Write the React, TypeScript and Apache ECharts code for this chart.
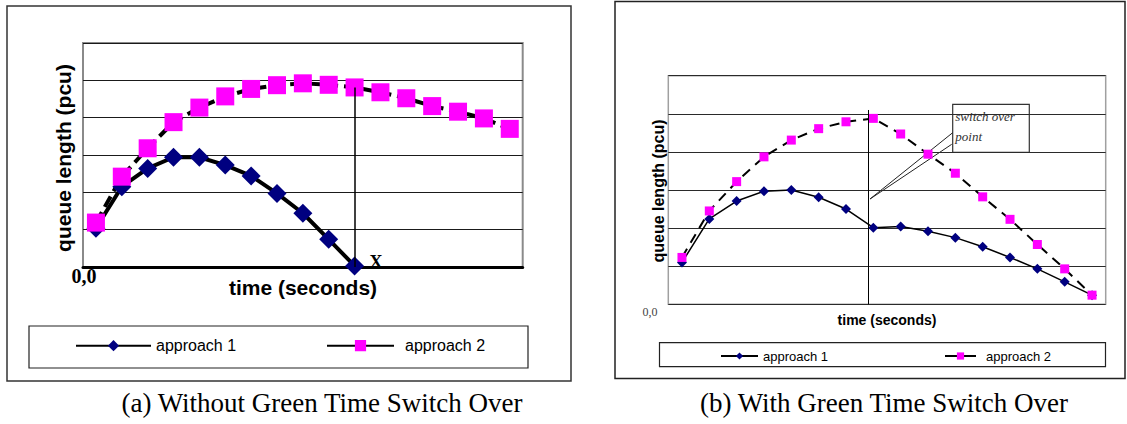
import React, { useEffect, useRef } from "react";
import * as echarts from "echarts";

// ---- data: chart (a) Without Green Time Switch Over ----
const timeStepsA = [1, 2, 3, 4, 5, 6, 7, 8, 9, 10, 11, 12, 13, 14, 15, 16, 17];
const approach1A = [1.04, 2.15, 2.64, 2.94, 2.94, 2.73, 2.44, 1.97, 1.44, 0.74, 0.03];
const approach2A = [1.19, 2.42, 3.18, 3.88, 4.27, 4.57, 4.77, 4.87, 4.92, 4.88, 4.81, 4.68, 4.52, 4.31, 4.16, 3.98, 3.7];
const markerIndexA = 10; // point "X"

// ---- data: chart (b) With Green Time Switch Over ----
const timeStepsB = [1, 2, 3, 4, 5, 6, 7, 8, 9, 10, 11, 12, 13, 14, 15, 16];
const approach1B = [1.1, 2.24, 2.71, 2.97, 3.0, 2.81, 2.5, 2.01, 2.04, 1.92, 1.75, 1.51, 1.23, 0.93, 0.59, 0.24];
const approach2B = [1.23, 2.45, 3.22, 3.87, 4.31, 4.61, 4.79, 4.88, 4.47, 3.94, 3.44, 2.82, 2.23, 1.57, 0.93, 0.24];
const switchOverTime = 7.82;
const switchOverTop = 5.1;
const baseLineB = 0.13;

const seriesNames = ["approach 1", "approach 2"];
const yTicks = { min: 0, max: 6, interval: 1 };

const SANS = "'Liberation Sans', Arial, Helvetica, sans-serif";
const SERIF = "'Liberation Serif', 'Times New Roman', Times, serif";

const pairs = (xs: number[], ys: number[]) => ys.map((y, i) => [xs[i], y]);

function optionA(): any {
  return {
    animation: false,
    grid: {
      left: 83,
      top: 43,
      right: 67.3,
      bottom: 157,
      show: true,
      borderColor: "#8a8a8a",
      borderWidth: 2,
      backgroundColor: "transparent",
    },
    xAxis: {
      type: "value",
      min: 0.5,
      max: timeStepsA.length + 0.5,
      axisLine: { show: true, lineStyle: { color: "#000", width: 3 } },
      axisTick: { show: false },
      axisLabel: { show: false },
      splitLine: { show: false },
    },
    yAxis: {
      type: "value",
      ...yTicks,
      axisLine: { show: false },
      axisTick: { show: false },
      axisLabel: { show: false },
      splitLine: { show: true, lineStyle: { color: "#1a1a1a", width: 1 } },
    },
    legend: [
      {
        data: [seriesNames[0]],
        left: 75,
        top: 337.7,
        padding: 0,
        itemWidth: 75,
        itemHeight: 14,
        selectedMode: false,
        textStyle: { fontSize: 16, fontFamily: SANS, color: "#000" },
      },
      {
        data: [seriesNames[1]],
        left: 326,
        top: 337.7,
        padding: 0,
        itemWidth: 67,
        itemHeight: 14,
        selectedMode: false,
        lineStyle: { type: "solid" },
        textStyle: { fontSize: 16, fontFamily: SANS, color: "#000", padding: [0, 0, 0, 6] },
      },
    ],
    series: [
      {
        name: seriesNames[0],
        type: "line",
        data: pairs(timeStepsA, approach1A),
        symbol: "diamond",
        symbolSize: [19, 19],
        clip: false,
        itemStyle: { color: "#000080" },
        lineStyle: { color: "#000", width: 4 },
      },
      {
        name: seriesNames[1],
        type: "line",
        data: pairs(timeStepsA, approach2A),
        symbol: "rect",
        symbolSize: 18,
        clip: false,
        itemStyle: { color: "#ff00ff" },
        lineStyle: { color: "#000", width: 4, type: [12, 6] },
        markLine: {
          silent: true,
          symbol: ["none", "none"],
          label: { show: false },
          lineStyle: { color: "#000", width: 1.5, type: "solid" },
          data: [
            [
              { coord: [timeStepsA[markerIndexA], approach2A[markerIndexA]] },
              { coord: [timeStepsA[markerIndexA], 0] },
            ],
            [
              { coord: [0.5, 0], lineStyle: { width: 3 } },
              { coord: [timeStepsA.length + 0.75, 0] },
            ],
          ],
        },
      },
    ],
    graphic: {
      elements: [
        {
          type: "rect",
          shape: { x: 7, y: 6, width: 564, height: 375 },
          style: { fill: "none", stroke: "#333", lineWidth: 1.5 },
          silent: true,
        },
        {
          type: "rect",
          shape: { x: 29, y: 326, width: 499, height: 42 },
          style: { fill: "none", stroke: "#222", lineWidth: 1.2 },
          silent: true,
        },
        {
          type: "text",
          x: 63,
          y: 158,
          rotation: Math.PI / 2,
          style: {
            text: "queue length (pcu)",
            fontFamily: SANS,
            fontWeight: "bold",
            fontSize: 21,
            fill: "#000",
            align: "center",
            verticalAlign: "middle",
          },
        },
        {
          type: "text",
          x: 303,
          y: 287,
          style: {
            text: "time (seconds)",
            fontFamily: SANS,
            fontWeight: "bold",
            fontSize: 21,
            fill: "#000",
            align: "center",
            verticalAlign: "middle",
          },
        },
        {
          type: "text",
          x: 84,
          y: 276,
          style: {
            text: "0,0",
            fontFamily: SERIF,
            fontWeight: "bold",
            fontSize: 20,
            fill: "#000",
            align: "center",
            verticalAlign: "middle",
          },
        },
        {
          type: "text",
          x: 376,
          y: 262,
          style: {
            text: "X",
            fontFamily: SERIF,
            fontWeight: "bold",
            fontSize: 18,
            fill: "#000",
            align: "center",
            verticalAlign: "middle",
          },
        },
        {
          type: "text",
          x: 322,
          y: 403,
          style: {
            text: "(a) Without Green Time Switch Over",
            fontFamily: SERIF,
            fontSize: 27,
            fill: "#000",
            align: "center",
            verticalAlign: "middle",
          },
        },
      ],
    },
  };
}

function optionB(): any {
  return {
    animation: false,
    grid: {
      left: 78.3,
      top: 75.7,
      right: 21.3,
      bottom: 119.7,
      show: true,
      borderColor: "#a0a0a0",
      borderWidth: 1.5,
      backgroundColor: "transparent",
    },
    xAxis: {
      type: "value",
      min: 0.5,
      max: timeStepsB.length + 0.5,
      axisLine: { show: false },
      axisTick: { show: false },
      axisLabel: { show: false },
      splitLine: { show: false },
    },
    yAxis: {
      type: "value",
      ...yTicks,
      axisLine: { show: false },
      axisTick: { show: false },
      axisLabel: { show: false },
      splitLine: { show: true, lineStyle: { color: "#2a2a2a", width: 1.2 } },
    },
    legend: [
      {
        data: [seriesNames[0]],
        left: 130,
        top: 349.5,
        padding: 0,
        itemWidth: 37,
        itemHeight: 9,
        selectedMode: false,
        textStyle: { fontSize: 13, fontFamily: SANS, color: "#000" },
      },
      {
        data: [seriesNames[1]],
        left: 354,
        top: 349.5,
        padding: 0,
        itemWidth: 31,
        itemHeight: 9,
        selectedMode: false,
        lineStyle: { type: "solid" },
        textStyle: { fontSize: 13, fontFamily: SANS, color: "#000", padding: [0, 0, 0, 5] },
      },
    ],
    series: [
      {
        name: seriesNames[0],
        type: "line",
        data: pairs(timeStepsB, approach1B),
        symbol: "diamond",
        symbolSize: [10, 10],
        clip: false,
        itemStyle: { color: "#000080" },
        lineStyle: { color: "#000", width: 1.5 },
        markLine: {
          silent: true,
          symbol: ["none", "none"],
          label: { show: false },
          lineStyle: { color: "#000", width: 1, type: "solid" },
          data: [
            [{ coord: [switchOverTime, 0] }, { coord: [switchOverTime, switchOverTop] }],
            [
              { coord: [0.44, baseLineB], lineStyle: { width: 1.5 } },
              { coord: [timeStepsB.length + 0.35, baseLineB] },
            ],
          ],
        },
      },
      {
        name: seriesNames[1],
        type: "line",
        data: pairs(timeStepsB, approach2B),
        symbol: "rect",
        symbolSize: 9,
        clip: false,
        itemStyle: { color: "#ff00ff" },
        lineStyle: { color: "#000", width: 2, type: [10, 7] },
      },
    ],
    graphic: {
      elements: [
        {
          type: "rect",
          shape: { x: 25, y: 1.5, width: 510, height: 377 },
          style: { fill: "none", stroke: "#222", lineWidth: 1.5 },
          silent: true,
        },
        {
          type: "rect",
          shape: { x: 69.5, y: 342.7, width: 446, height: 24 },
          style: { fill: "none", stroke: "#222", lineWidth: 1.2 },
          silent: true,
        },
        {
          type: "rect",
          shape: { x: 362.7, y: 104.3, width: 76.6, height: 48 },
          style: { fill: "none", stroke: "#333", lineWidth: 1.2 },
          silent: true,
        },
        {
          type: "polyline",
          shape: { points: [[362.7, 132.7], [280, 199], [361.7, 144.3]] },
          style: { fill: "none", stroke: "#222", lineWidth: 1 },
          silent: true,
        },
        {
          type: "text",
          x: 365.3,
          y: 116.7,
          style: {
            text: "switch over",
            fontFamily: SERIF,
            fontStyle: "italic",
            fontSize: 13,
            fill: "#333",
            align: "left",
            verticalAlign: "middle",
          },
        },
        {
          type: "text",
          x: 365.3,
          y: 136.7,
          style: {
            text: "point",
            fontFamily: SERIF,
            fontStyle: "italic",
            fontSize: 13,
            fill: "#333",
            align: "left",
            verticalAlign: "middle",
          },
        },
        {
          type: "text",
          x: 68,
          y: 191,
          rotation: Math.PI / 2,
          style: {
            text: "queue length (pcu)",
            fontFamily: SANS,
            fontWeight: "bold",
            fontSize: 16,
            fill: "#000",
            align: "center",
            verticalAlign: "middle",
          },
        },
        {
          type: "text",
          x: 297,
          y: 320,
          style: {
            text: "time (seconds)",
            fontFamily: SANS,
            fontWeight: "bold",
            fontSize: 14,
            fill: "#000",
            align: "center",
            verticalAlign: "middle",
          },
        },
        {
          type: "text",
          x: 60,
          y: 312,
          style: {
            text: "0,0",
            fontFamily: SERIF,
            fontSize: 12,
            fill: "#444",
            align: "center",
            verticalAlign: "middle",
          },
        },
        {
          type: "text",
          x: 294,
          y: 403,
          style: {
            text: "(b) With Green Time Switch Over",
            fontFamily: SERIF,
            fontSize: 27,
            fill: "#000",
            align: "center",
            verticalAlign: "middle",
          },
        },
      ],
    },
  };
}

export default function App() {
  const refA = useRef<HTMLDivElement>(null);
  const refB = useRef<HTMLDivElement>(null);

  useEffect(() => {
    if (!refA.current || !refB.current) return;
    const chartA = echarts.init(refA.current, null, { renderer: "svg" });
    const chartB = echarts.init(refB.current, null, { renderer: "svg" });
    chartA.setOption(optionA());
    chartB.setOption(optionB());
    return () => {
      chartA.dispose();
      chartB.dispose();
    };
  }, []);

  return (
    <div style={{ position: "absolute", left: 0, top: 0, width: 1127, height: 424, background: "#fff" }}>
      <div ref={refA} style={{ position: "absolute", left: 0, top: 0, width: 590, height: 424 }} />
      <div ref={refB} style={{ position: "absolute", left: 590, top: 0, width: 537, height: 424 }} />
    </div>
  );
}
